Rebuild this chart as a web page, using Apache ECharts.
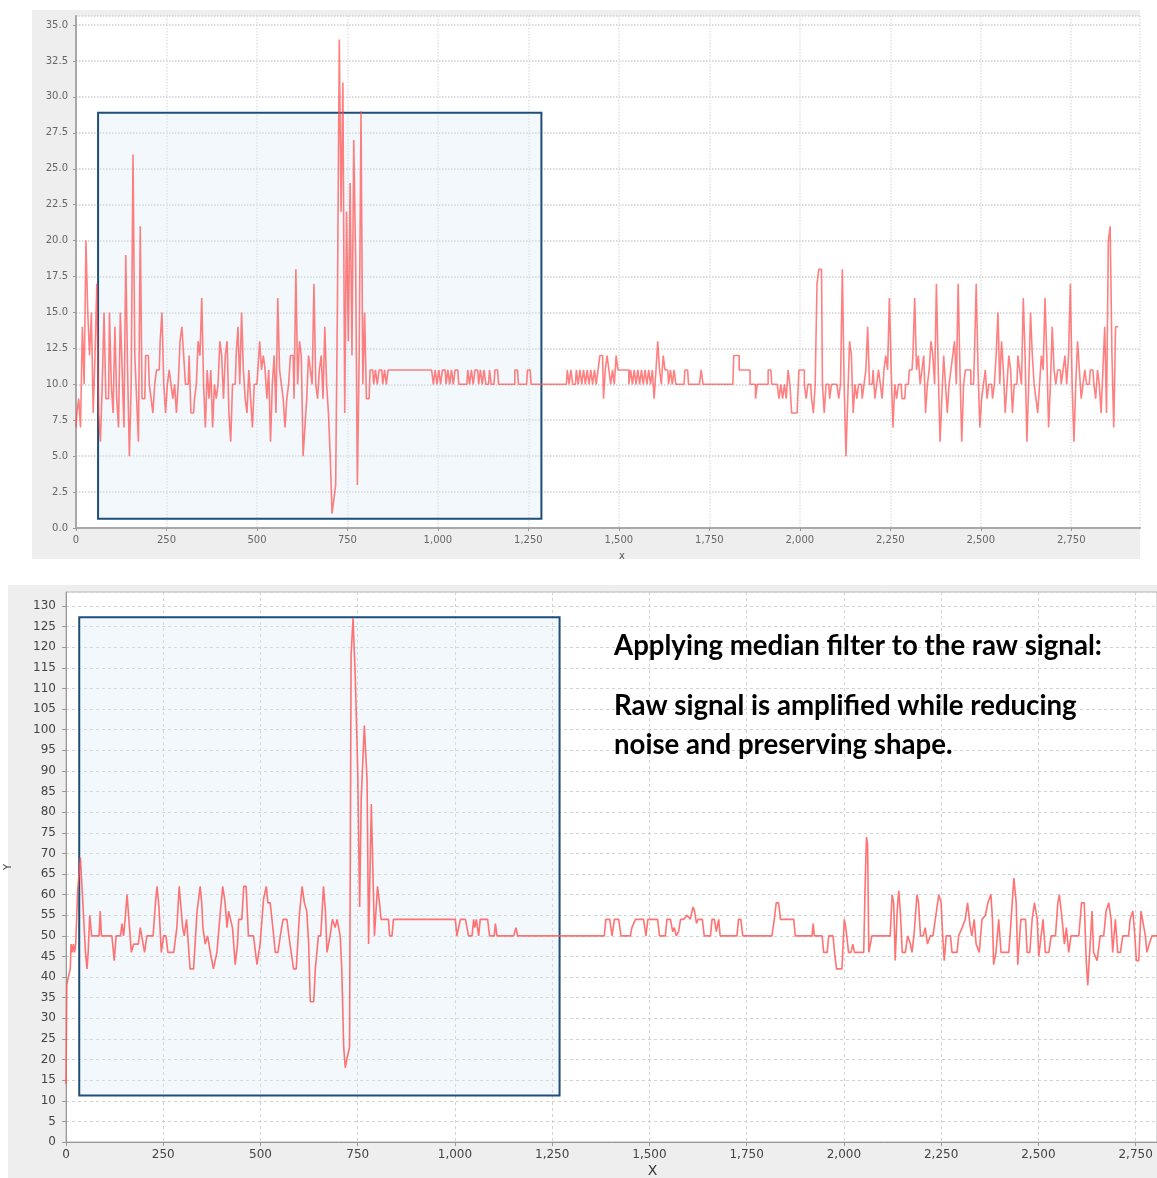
<!DOCTYPE html>
<html>
<head>
<meta charset="utf-8">
<script src="https://cdn.jsdelivr.net/npm/echarts@6/dist/echarts.min.js"></script>
<style>
  html, body { margin: 0; padding: 0; background: #fff; overflow: hidden; }
  #chart { width: 1157px; height: 1178px; }
</style>
</head>
<body>
<div id="chart"></div>
<script>
// raw signal: one reading every 5 samples, starting at x = 0
const rawStart = 0;
const rawStep = 5;
const rawValues = [
  7, 8, 9, 7, 14, 10, 20, 15, 12, 15, 8, 12, 17, 8, 6, 10, 15, 9, 9, 15,
  10, 8, 14, 9, 7, 15, 11, 7, 19, 11, 5, 10, 26, 12, 9, 6, 21, 9, 9, 12,
  12, 10, 9, 8, 10, 11, 11, 13, 15, 10, 8, 10, 11, 10, 9, 10, 8, 10, 13, 14,
  12, 10, 10, 12, 8, 8, 9, 10, 13, 12, 16, 10, 7, 11, 9, 11, 7, 10, 9, 10,
  13, 12, 9, 12, 13, 8, 6, 10, 10, 12, 14, 10, 15, 11, 9, 8, 11, 9, 7, 10,
  10, 11, 13, 11, 12, 11, 9, 11, 6, 10, 12, 8, 16, 11, 10, 9, 7, 9, 10, 12,
  12, 9, 18, 10, 13, 12, 5, 7, 9, 12, 11, 10, 17, 10, 9, 11, 12, 9, 14, 10,
  8, 5, 1, 2, 3, 16, 34, 22, 31, 8, 22, 13, 24, 12, 27, 19, 3, 12, 29, 10,
  15, 9, 9, 11, 11, 10, 11, 10, 11, 11, 10, 11, 10, 11, 11, 11, 11, 11, 11, 11,
  11, 11, 11, 11, 11, 11, 11, 11, 11, 11, 11, 11, 11, 11, 11, 11, 11, 11, 10, 11,
  10, 11, 10, 11, 11, 10, 11, 10, 11, 10, 11, 11, 10, 10, 10, 10, 10, 11, 10, 11,
  10, 11, 11, 10, 11, 10, 11, 10, 10, 11, 10, 10, 11, 11, 10, 10, 10, 10, 10, 10,
  10, 10, 10, 11, 11, 10, 10, 10, 10, 10, 11, 11, 10, 10, 10, 10, 10, 10, 10, 10,
  10, 10, 10, 10, 10, 10, 10, 10, 10, 10, 10, 10, 11, 10, 11, 10, 10, 11, 10, 11,
  10, 11, 10, 11, 10, 11, 10, 11, 10, 11, 12, 12, 9, 11, 12, 11, 10, 11, 10, 12,
  11, 11, 11, 11, 11, 11, 10, 11, 10, 11, 10, 11, 10, 11, 10, 11, 10, 11, 10, 11,
  9, 11, 13, 11, 10, 12, 11, 11, 10, 11, 10, 11, 10, 10, 10, 10, 10, 11, 11, 10,
  10, 10, 10, 10, 10, 10, 11, 10, 10, 10, 10, 10, 10, 10, 10, 10, 10, 10, 10, 10,
  10, 10, 10, 10, 12, 12, 12, 11, 11, 11, 11, 11, 11, 10, 10, 10, 9, 10, 10, 10,
  10, 10, 10, 11, 11, 10, 10, 10, 10, 9, 10, 9, 10, 9, 11, 10, 8, 8, 8, 8,
  11, 11, 11, 10, 9, 10, 10, 9, 8, 10, 17, 18, 18, 10, 8, 10, 10, 9, 10, 10,
  10, 10, 9, 10, 18, 10, 5, 9, 13, 12, 8, 10, 9, 10, 10, 9, 10, 11, 14, 10,
  10, 11, 9, 10, 11, 10, 9, 11, 12, 11, 16, 11, 7, 10, 9, 10, 10, 9, 9, 10,
  10, 11, 11, 12, 16, 11, 12, 10, 11, 12, 8, 10, 11, 13, 12, 10, 17, 11, 6, 9,
  12, 10, 8, 10, 11, 12, 13, 10, 17, 11, 6, 10, 11, 11, 11, 10, 10, 12, 17, 11,
  7, 9, 10, 11, 9, 10, 10, 9, 10, 12, 15, 10, 13, 11, 8, 10, 12, 11, 8, 10,
  10, 12, 11, 10, 16, 12, 6, 10, 15, 12, 10, 9, 8, 10, 12, 11, 16, 12, 7, 10,
  14, 11, 10, 11, 11, 10, 11, 12, 10, 12, 17, 10, 6, 10, 13, 11, 9, 10, 11, 10,
  10, 11, 11, 10, 9, 11, 10, 8, 11, 14, 8, 20, 21, 12, 7, 14, 14
];

// median filtered signal, breakpoints (x, y)
const filtX = [
  0, 2, 6, 11, 13, 16, 19, 22, 25, 30, 37, 45, 50, 54, 57, 61, 66, 85, 88, 91,
  118, 124, 129, 140, 144, 148, 152, 157, 161, 168, 174, 186, 191, 196, 202, 208, 224, 230, 234, 239,
  245, 251, 257, 262, 277, 285, 291, 295, 300, 304, 310, 314, 319, 328, 337, 345, 349, 352, 358, 364,
  371, 379, 383, 388, 397, 403, 409, 414, 418, 422, 428, 435, 441, 444, 452, 457, 463, 469, 482, 491,
  499, 508, 515, 519, 525, 534, 538, 545, 551, 558, 568, 573, 578, 585, 592, 600, 607, 613, 619, 624,
  628, 637, 641, 649, 655, 662, 667, 671, 679, 685, 692, 697, 705, 709, 714, 718, 722, 729, 733, 738,
  744, 750, 755, 759, 767, 774, 778, 785, 788, 793, 797, 801, 806, 810, 829, 832, 838, 842, 1001, 1005,
  1014, 1027, 1031, 1035, 1044, 1048, 1051, 1055, 1061, 1065, 1084, 1089, 1101, 1104, 1108, 1151, 1157, 1161, 1384, 1388,
  1398, 1404, 1410, 1421, 1427, 1451, 1455, 1464, 1485, 1491, 1496, 1521, 1526, 1541, 1545, 1554, 1560, 1564, 1569, 1575,
  1580, 1588, 1597, 1605, 1612, 1616, 1621, 1625, 1636, 1641, 1657, 1661, 1667, 1672, 1678, 1682, 1725, 1729, 1735, 1740,
  1815, 1821, 1826, 1832, 1837, 1871, 1875, 1918, 1921, 1924, 1944, 1948, 1957, 1961, 1972, 1976, 1981, 1995, 2001, 2005,
  2012, 2018, 2023, 2027, 2051, 2054, 2058, 2061, 2064, 2068, 2072, 2119, 2124, 2128, 2132, 2137, 2141, 2145, 2150, 2158,
  2164, 2171, 2175, 2180, 2188, 2192, 2197, 2204, 2209, 2215, 2222, 2229, 2235, 2244, 2250, 2254, 2258, 2263, 2274, 2278,
  2291, 2295, 2304, 2312, 2318, 2325, 2329, 2335, 2340, 2348, 2355, 2364, 2370, 2378, 2382, 2385, 2391, 2398, 2404, 2411,
  2424, 2430, 2437, 2443, 2447, 2452, 2455, 2467, 2471, 2478, 2484, 2490, 2497, 2501, 2505, 2512, 2518, 2527, 2533, 2544,
  2550, 2554, 2561, 2567, 2572, 2578, 2584, 2604, 2611, 2618, 2623, 2627, 2632, 2638, 2642, 2651, 2659, 2668, 2674, 2681,
  2687, 2691, 2698, 2704, 2711, 2717, 2732, 2736, 2743, 2748, 2752, 2758, 2764, 2769, 2775, 2779, 2785, 2792, 2806
];
const filtY = [
  14, 38, 40, 42, 48, 46, 48, 46, 48, 61, 69, 55, 46, 42, 46, 55, 50, 50, 56, 50,
  50, 44, 50, 50, 53, 50, 54, 60, 60, 46, 48, 48, 52, 52, 46, 50, 50, 58, 62, 57,
  46, 50, 50, 46, 46, 52, 62, 62, 52, 50, 54, 54, 42, 42, 56, 62, 58, 52, 48, 50,
  46, 42, 42, 46, 56, 62, 58, 52, 56, 56, 52, 43, 48, 54, 54, 62, 62, 50, 50, 43,
  48, 59, 62, 58, 58, 50, 46, 46, 50, 54, 54, 50, 50, 42, 42, 55, 62, 58, 56, 48,
  34, 34, 42, 50, 50, 62, 56, 46, 50, 54, 52, 54, 50, 42, 23, 18, 20, 23, 118, 127,
  112, 90, 57, 83, 101, 88, 48, 82, 82, 50, 50, 62, 58, 54, 54, 50, 50, 54, 54, 50,
  54, 54, 54, 50, 50, 54, 52, 54, 50, 54, 54, 50, 50, 53, 50, 50, 52, 50, 50, 54,
  54, 50, 54, 54, 50, 50, 52, 54, 54, 50, 54, 54, 50, 50, 54, 54, 51, 52, 50, 51,
  54, 54, 55, 54, 57, 56, 53, 54, 54, 50, 50, 54, 54, 51, 54, 50, 50, 54, 54, 50,
  50, 54, 58, 58, 54, 54, 50, 50, 53, 50, 50, 46, 46, 50, 50, 46, 42, 42, 54, 52,
  46, 46, 48, 46, 46, 60, 74, 72, 46, 46, 50, 50, 60, 58, 44, 56, 61, 56, 46, 46,
  50, 48, 46, 50, 60, 58, 50, 50, 52, 48, 50, 50, 54, 60, 58, 50, 44, 50, 50, 46,
  46, 50, 52, 54, 58, 52, 50, 54, 48, 46, 54, 55, 58, 60, 54, 43, 46, 54, 46, 46,
  46, 54, 64, 58, 43, 43, 54, 54, 46, 46, 54, 58, 54, 45, 45, 54, 46, 46, 50, 50,
  58, 60, 54, 48, 52, 46, 50, 50, 58, 58, 44, 38, 38, 56, 46, 44, 50, 50, 56, 58,
  54, 46, 54, 46, 46, 50, 50, 54, 56, 50, 44, 44, 56, 56, 50, 46, 48, 50, 50
];

// highlighted regions: [[xFrom, yFrom], [xTo, yTo]]
const rawBox = [[61, 0.65], [1286, 28.9]];
const filtBox = [[34, 11.3], [1269, 127.3]];

const noteLines = [
  'Applying median filter to the raw signal:',
  'Raw signal is amplified while reducing',
  'noise and preserving shape.'
];

const rawData = rawValues.map((v, i) => [rawStart + i * rawStep, v]);
const filtData = filtX.map((x, i) => [x, filtY[i]]);

const boxStyle = {
  color: 'rgba(222, 234, 246, 0.35)',
  borderColor: '#1f4e79',
  borderWidth: 2
};

const fmtX = v => v.toLocaleString('en-US');
const noteFont = 'bold 27.6px Lato';

const chart = echarts.init(document.getElementById('chart'));
chart.setOption({
  backgroundColor: '#fff',
  animation: false,
  graphic: [
    { type: 'rect', z: -10, shape: { x: 32, y: 10, width: 1108, height: 549 }, style: { fill: '#eeeeee' } },
    { type: 'rect', z: -10, shape: { x: 8, y: 585, width: 1149, height: 593 }, style: { fill: '#eeeeee' } },
    { type: 'text', z: 100, x: 614, y: 646, style: { text: noteLines[0], font: noteFont, fill: '#000', verticalAlign: 'middle' } },
    { type: 'text', z: 100, x: 614, y: 706, style: { text: noteLines[1], font: noteFont, fill: '#000', verticalAlign: 'middle' } },
    { type: 'text', z: 100, x: 614, y: 745, style: { text: noteLines[2], font: noteFont, fill: '#000', verticalAlign: 'middle' } }
  ],
  grid: [
    { left: 76, top: 16, right: 17, bottom: 650, outerBoundsMode: 'none', show: true, backgroundColor: '#fff', borderWidth: 0 },
    { left: 66, top: 592, right: 0, bottom: 36, outerBoundsMode: 'none', show: true, backgroundColor: '#fff', borderColor: '#b5b5b5', borderWidth: 1 }
  ],
  xAxis: [
    {
      gridIndex: 0, type: 'value', min: 0, max: 2940, interval: 250,
      name: 'x', nameLocation: 'middle', nameGap: 23,
      nameTextStyle: { fontFamily: 'DejaVu Sans', fontSize: 10, color: '#555', padding: [0, 0, 0, 28] },
      axisLine: { show: true, lineStyle: { color: '#a8a8a8', width: 2 } },
      axisTick: { show: true, length: 3, lineStyle: { color: '#999' } },
      axisLabel: { margin: 7, fontFamily: 'DejaVu Sans', fontSize: 10, color: '#666', showMaxLabel: false, formatter: fmtX },
      splitLine: { show: true, lineStyle: { type: 'dotted', color: '#e2e2e2', width: 1.5 } }
    },
    {
      gridIndex: 1, type: 'value', min: 0, max: 2805, interval: 250,
      name: 'X', nameLocation: 'middle', nameGap: 22,
      nameTextStyle: { fontFamily: 'DejaVu Sans', fontSize: 14, color: '#333', padding: [0, 0, 0, 82] },
      axisLine: { show: true, lineStyle: { color: '#999', width: 1 } },
      axisTick: { show: true, length: 4, lineStyle: { color: '#999' } },
      axisLabel: { margin: 7, fontFamily: 'DejaVu Sans', fontSize: 12, color: '#444', showMaxLabel: false, formatter: fmtX },
      splitLine: { show: true, lineStyle: { type: [3, 3], color: '#d2d2d2', width: 1 } }
    }
  ],
  yAxis: [
    {
      gridIndex: 0, type: 'value', min: 0, max: 35.63, interval: 2.5,
      axisLine: { show: true, lineStyle: { color: '#a8a8a8', width: 2 } },
      axisTick: { show: true, length: 3, lineStyle: { color: '#999' } },
      axisLabel: { margin: 8, fontFamily: 'DejaVu Sans', fontSize: 10, color: '#666', showMaxLabel: false, formatter: v => v.toFixed(1) },
      splitLine: { show: true, lineStyle: { type: 'dotted', color: '#d0d0d0', width: 1.5 } }
    },
    {
      gridIndex: 1, type: 'value', min: 0, max: 133.4, interval: 5,
      name: 'Y', nameLocation: 'middle', nameGap: 53, nameRotate: 90,
      nameTextStyle: { fontFamily: 'DejaVu Sans', fontSize: 10, color: '#333' },
      axisLine: { show: true, lineStyle: { color: '#999', width: 1 } },
      axisTick: { show: true, length: 4, lineStyle: { color: '#999' } },
      axisLabel: { margin: 10, fontFamily: 'DejaVu Sans', fontSize: 12, color: '#444', showMaxLabel: false },
      splitLine: { show: true, lineStyle: { type: [3, 3], color: '#d2d2d2', width: 1 } }
    }
  ],
  series: [
    {
      type: 'line', xAxisIndex: 0, yAxisIndex: 0, data: rawData,
      step: 'middle', showSymbol: false, symbol: 'none',
      lineStyle: { color: '#ff4a4a', width: 1.6, opacity: 0.7 },
      markArea: { silent: true, itemStyle: boxStyle, data: [[{ coord: rawBox[0] }, { coord: rawBox[1] }]] }
    },
    {
      type: 'line', xAxisIndex: 1, yAxisIndex: 1, data: filtData,
      showSymbol: false, symbol: 'none',
      lineStyle: { color: '#ff5a5a', width: 1.6, opacity: 0.85 },
      markArea: { silent: true, itemStyle: boxStyle, data: [[{ coord: filtBox[0] }, { coord: filtBox[1] }]] }
    }
  ]
});
</script>
</body>
</html>
